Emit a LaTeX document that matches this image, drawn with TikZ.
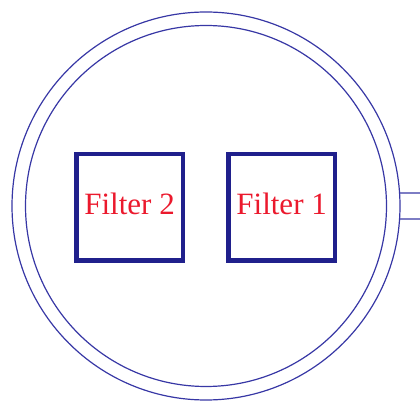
\documentclass[tikz,border=0pt]{standalone}
\usepackage{fontspec}
\setmainfont{Liberation Serif}
\usetikzlibrary{calc}

\definecolor{wallblue}{RGB}{55,55,165}
\definecolor{boxblue}{RGB}{32,32,140}
\definecolor{labelred}{RGB}{235,25,45}

\begin{document}
\begin{tikzpicture}[x=1pt,y=1pt,
    wall/.style={draw=wallblue,line width=1.2pt},
    filterbox/.style={draw=boxblue,line width=4.5pt,minimum width=106.5pt,minimum height=106.5pt,
      inner sep=0pt,text=labelred,text depth=8pt,font=\fontsize{31}{36}\selectfont}]
            \useasboundingbox (0,0) rectangle (420,401);
            \coordinate (ctr) at (206,195);
            % tank walls
            \draw[wall] (ctr) circle (194);
            \draw[wall] (ctr) circle (180.5);
            % outlet pipe
            \coordinate (pipetop) at ($(ctr)+(3.84:194)$);
            \coordinate (pipebot) at ($(ctr)+(-3.84:194)$);
            \coordinate (pipetopend) at (420,208);
            \coordinate (pipebotend) at (420,182);
            \draw[wall] (pipetop) -- (pipetopend);
            \draw[wall] (pipebot) -- (pipebotend);
  
            \node[filterbox] (filter2) at (129.6,193.5) {Filter 2};
            \node[filterbox] (filter1) at (281.6,193.5) {Filter 1};
        \end{tikzpicture}
\end{document}
